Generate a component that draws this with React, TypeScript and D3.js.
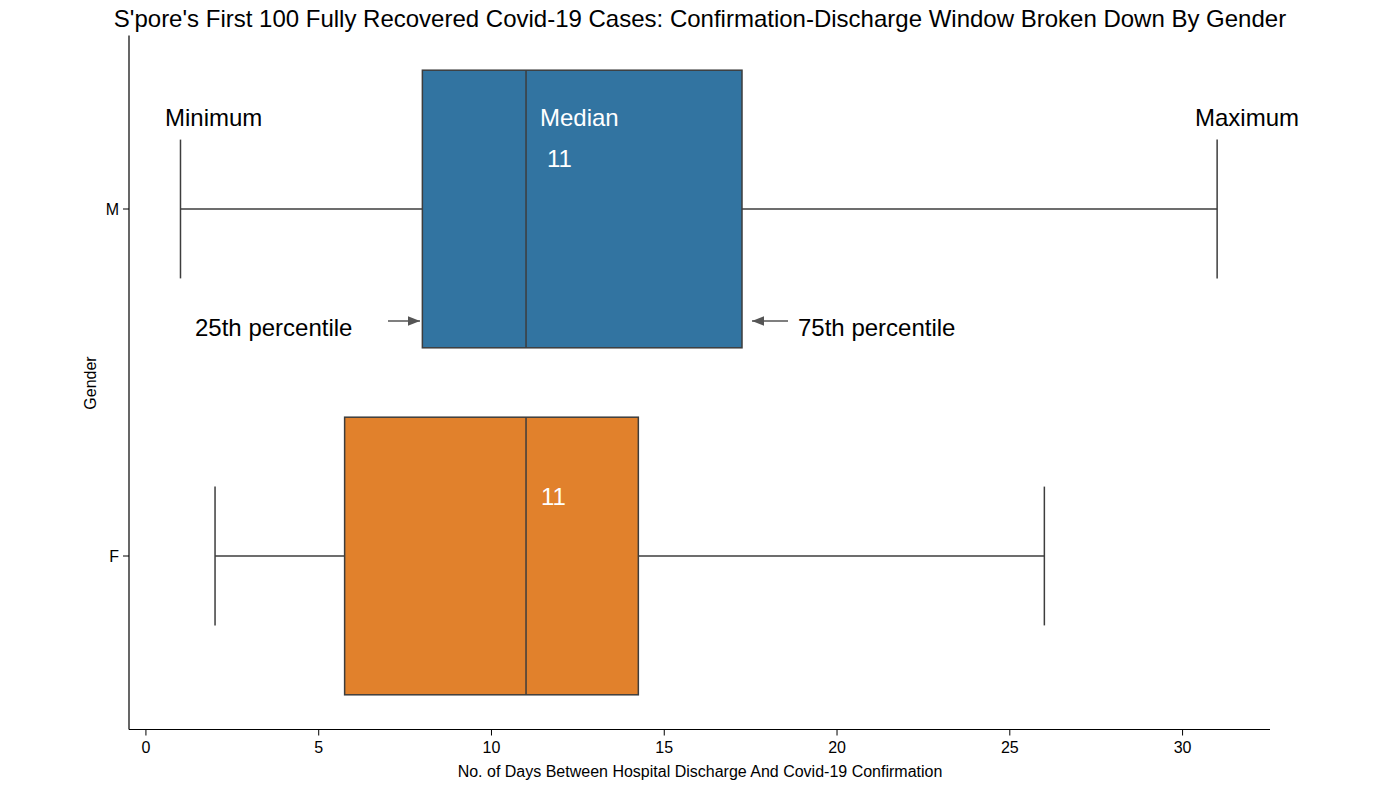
import React from "react";
import * as d3 from "d3";

const genders = ["M", "F"];
const mins = [1, 2];
const q1s = [8, 5.75];
const medians = [11, 11];
const q3s = [17.25, 14.25];
const maxs = [31, 26];
const colors = ["#3274a1", "#e1812c"];
const xTicks = [0, 5, 10, 15, 20, 25, 30];

export default function App() {
  const W = 1400, H = 786;
  const left = 129, right = 1270, top = 35.5, bottom = 729.5;
  const x = d3.scaleLinear().domain([-0.49, 32.53]).range([left, right]);
  const y = d3.scaleBand().domain(genders).range([top, bottom]);
  const bw = y.bandwidth();
  const font = "Liberation Sans, Arial, sans-serif";
  const cy = (g: string) => (y(g) as number) + bw / 2;
  const edge = "#3d3d3d";
  return (
    <svg width={W} height={H} style={{ position: "absolute", left: 0, top: 0, background: "#fff" }} fontFamily={font}>
      <text x={700} y={27} textAnchor="middle" fontSize={24}>S'pore's First 100 Fully Recovered Covid-19 Cases: Confirmation-Discharge Window Broken Down By Gender</text>
      {genders.map((g, i) => {
        const c = cy(g);
        return (
          <g key={g}>
            <line x1={x(mins[i])} x2={x(q1s[i])} y1={c} y2={c} stroke={edge} strokeWidth={1.5} />
            <line x1={x(q3s[i])} x2={x(maxs[i])} y1={c} y2={c} stroke={edge} strokeWidth={1.5} />
            <line x1={x(mins[i])} x2={x(mins[i])} y1={c - bw * 0.2} y2={c + bw * 0.2} stroke={edge} strokeWidth={1.5} />
            <line x1={x(maxs[i])} x2={x(maxs[i])} y1={c - bw * 0.2} y2={c + bw * 0.2} stroke={edge} strokeWidth={1.5} />
            <rect x={x(q1s[i])} y={c - bw * 0.4} width={x(q3s[i]) - x(q1s[i])} height={bw * 0.8} fill={colors[i]} stroke={edge} strokeWidth={1.5} />
            <line x1={x(medians[i])} x2={x(medians[i])} y1={c - bw * 0.4} y2={c + bw * 0.4} stroke={edge} strokeWidth={1.5} />
            <text x={y.domain().indexOf(g) === 0 ? 547 : 541} y={c + (i === 0 ? -42 : -51)} fill="#fff" fontSize={24}>{medians[i]}</text>
          </g>
        );
      })}
      <text x={165} y={126} fontSize={24}>Minimum</text>
      <text x={540} y={126} fontSize={24} fill="#fff">Median</text>
      <text x={1195} y={126} fontSize={24}>Maximum</text>
      <text x={195} y={336} fontSize={24}>25th percentile</text>
      <text x={798} y={336} fontSize={24}>75th percentile</text>
      <defs>
        <marker id="ah" viewBox="0 0 10 10" refX="10" refY="5" markerWidth="8" markerHeight="8" orient="auto">
          <path d="M0,1 L10,5 L0,9 z" fill="#555" />
        </marker>
      </defs>
      <line x1={388} y1={321} x2={420} y2={321} stroke="#555" strokeWidth={1.5} markerEnd="url(#ah)" />
      <line x1={788} y1={321} x2={752} y2={321} stroke="#555" strokeWidth={1.5} markerEnd="url(#ah)" />
      <line x1={left} x2={left} y1={top} y2={bottom} stroke="#000" strokeWidth={1.2} />
      <line x1={left} x2={right} y1={bottom} y2={bottom} stroke="#000" strokeWidth={1.2} />
      {xTicks.map(t => (
        <g key={t}>
          <line x1={x(t)} x2={x(t)} y1={bottom} y2={bottom + 6} stroke="#000" />
          <text x={x(t)} y={bottom + 23} textAnchor="middle" fontSize={16}>{t}</text>
        </g>
      ))}
      {genders.map(g => (
        <g key={g}>
          <line x1={left - 6} x2={left} y1={cy(g)} y2={cy(g)} stroke="#000" />
          <text x={left - 10} y={cy(g) + 6} textAnchor="end" fontSize={16}>{g}</text>
        </g>
      ))}
      <text x={700} y={777} textAnchor="middle" fontSize={16}>No. of Days Between Hospital Discharge And Covid-19 Confirmation</text>
      <text transform={`translate(96,383) rotate(-90)`} textAnchor="middle" fontSize={16}>Gender</text>
    </svg>
  );
}
